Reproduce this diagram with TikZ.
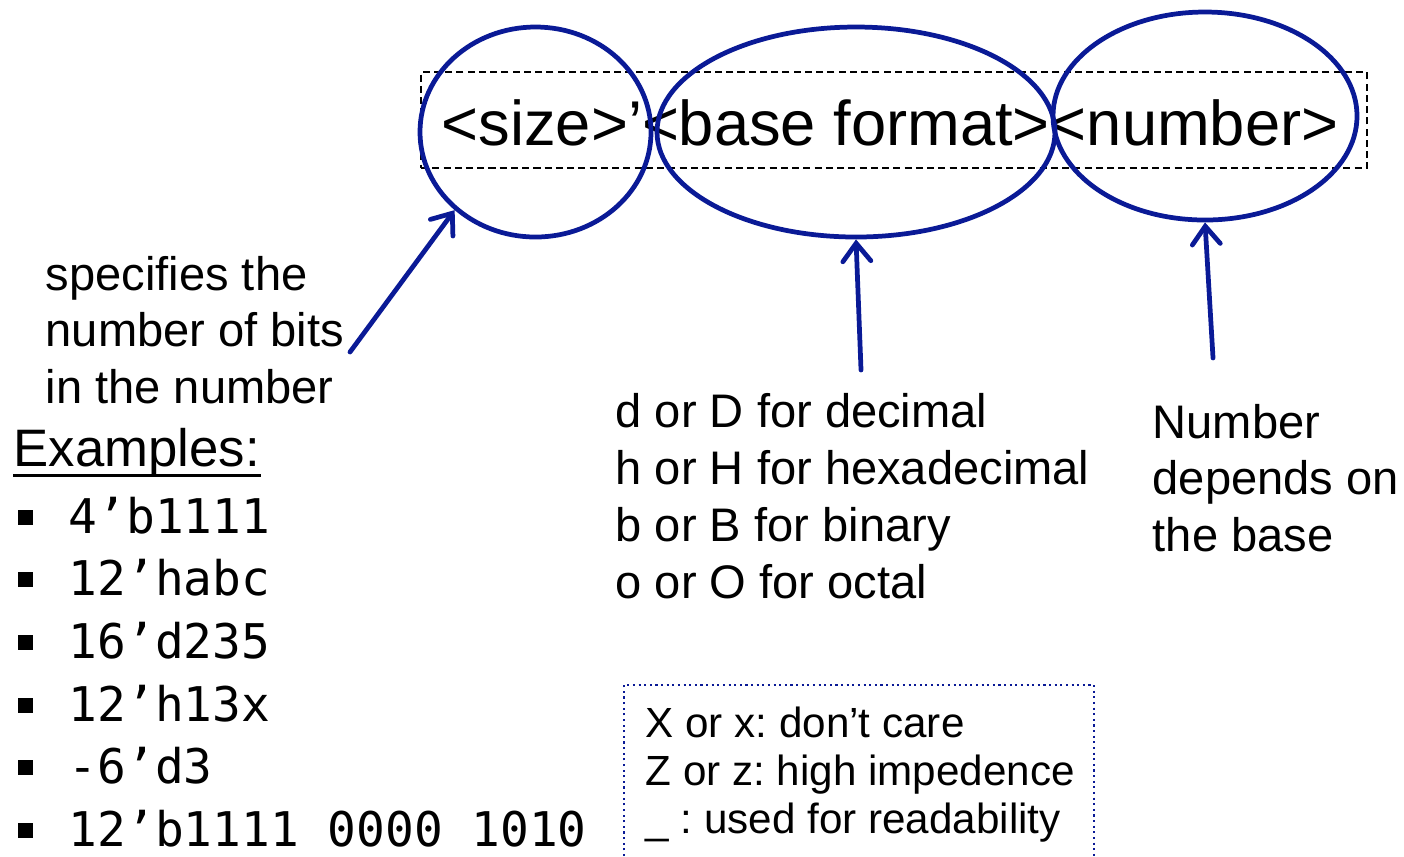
\documentclass[tikz,border=0pt]{standalone}
\usepackage{fontspec}
\setmainfont{Liberation Sans}
\setmonofont{DejaVu Sans Mono}
\usetikzlibrary{shapes.geometric, arrows.meta, positioning}
\definecolor{MyBlue}{HTML}{0A1A96}
\frenchspacing
\tikzset{
  note/.style={anchor=base west, inner sep=0pt, font=\fontsize{13.4}{16}\selectfont},
  ring/.style={draw=MyBlue, ellipse, line width=1.35pt, inner sep=0pt},
  pointer/.style={draw=MyBlue, line width=1.35pt, line cap=round,
    -{Straight Barb[length=1.8mm,width=2.8mm,line cap=round]}}
}

\begin{document}
\begin{tikzpicture}
		\useasboundingbox (0,0) rectangle (14.04,-8.56);
		\node (syntax) [anchor=base, inner sep=0pt, font=\fontsize{18}{20}\selectfont] at (8.90,-1.45)
		{<size>’<base format><number>};
		\node (frame) [draw, dash pattern=on 2pt off 1.2pt, line width=0.5pt, inner sep=0pt,
			minimum width=9.46cm, minimum height=0.96cm] at (8.94,-1.20) {};
		\node (sizeEll) [ring, minimum width=2.31cm, minimum height=2.10cm] at (5.355,-1.32) {};
		\node (baseEll) [ring, minimum width=3.98cm, minimum height=2.10cm] at (8.56,-1.32) {};
		\node (numEll) [ring, minimum width=3.04cm, minimum height=2.08cm] at (12.05,-1.16) {};
		% the three explanations
		\foreach \txt [count=\i] in {specifies the, number of bits, in the number}
			\node (size\i) [note] at (0.45,{-2.90-0.565*(\i-1)}) {\txt};
		\foreach \txt [count=\i] in {d or D for decimal, h or H for hexadecimal, b or B for binary, o or O for octal}
			\node (base\i) [note] at (6.15,{-4.27-0.57*(\i-1)}) {\txt};
		\foreach \txt [count=\i] in {Number, depends on, the base}
			\node (num\i) [note] at (11.52,{-4.38-0.565*(\i-1)}) {\txt};
		\coordinate (sizeTail) at (3.50,-3.52);
		\coordinate (baseTail) at (8.61,-3.70);
		\coordinate (numTail) at (12.13,-3.58);
		\draw[pointer] (sizeTail) -- (sizeEll.224);
		\draw[pointer] (baseTail) -- (baseEll.south);
		\draw[pointer] (numTail) -- (numEll.south);
		% examples
		\node (exTitle) [note, font=\fontsize{15}{18}\selectfont] at (0.13,-4.66) {Examples:};
		\draw[line width=0.9pt] ([yshift=-0.95mm]exTitle.base west) -- ([yshift=-0.95mm]exTitle.base east);
		\foreach \txt [count=\i] in {4’b1111, 12’habc, 16’d235, 12’h13x, -6’d3, 12’b1111 0000 1010} {
			\node (ex\i) [note, font=\fontsize{13.6}{16}\selectfont\ttfamily] at (0.68,{-5.33-0.627*(\i-1)}) {\txt};
			\node (dot\i) [fill, inner sep=0pt, minimum size=0.15cm] at (0.25,{-5.17-0.627*(\i-1)}) {};
		}
		% special digits
		\draw[MyBlue, densely dotted, line width=0.6pt] (6.24,-8.56) |- (10.94,-6.85) -- (10.94,-8.56);
		\foreach \txt [count=\i] in {X or x: don’t care, Z or z: high impedence, \_ : used for readability}
			\node (digit\i) [note, font=\fontsize{12}{14}\selectfont] at (6.45,{-7.37-0.48*(\i-1)}) {\txt};
\end{tikzpicture}
\end{document}
